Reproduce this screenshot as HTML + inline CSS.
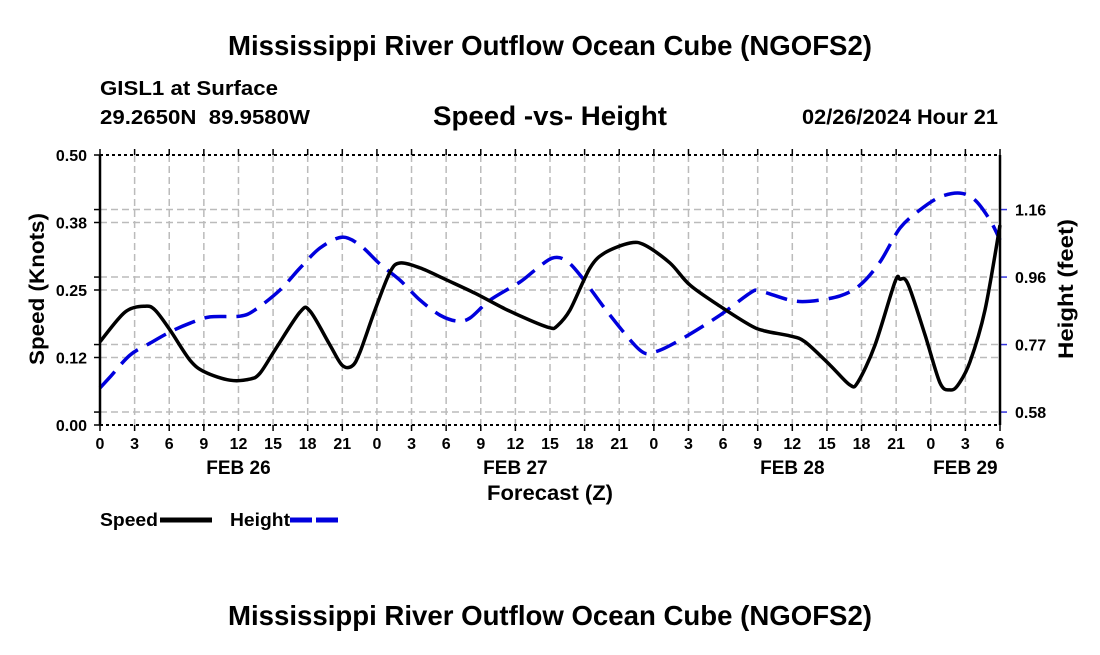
<!DOCTYPE html>
<html><head><meta charset="utf-8"><style>
body{margin:0;background:#fff;}
svg text{font-family:"Liberation Sans",Arial,sans-serif;font-weight:bold;fill:#000;white-space:pre;}
</style></head><body>
<svg id="chart" width="1100" height="650" viewBox="0 0 1100 650" xmlns="http://www.w3.org/2000/svg">
<rect width="1100" height="650" fill="#fff"/>
<text x="550" y="55" font-size="27.5" text-anchor="middle" textLength="644" lengthAdjust="spacingAndGlyphs">Mississippi River Outflow Ocean Cube (NGOFS2)</text>
<text x="100" y="95" font-size="20" textLength="178" lengthAdjust="spacingAndGlyphs">GISL1 at Surface</text>
<text x="100" y="124" font-size="20" textLength="210" lengthAdjust="spacingAndGlyphs">29.2650N  89.9580W</text>
<text x="550" y="125" font-size="27" text-anchor="middle" textLength="234" lengthAdjust="spacingAndGlyphs">Speed -vs- Height</text>
<text x="998" y="124" font-size="21" text-anchor="end" textLength="196" lengthAdjust="spacingAndGlyphs">02/26/2024 Hour 21</text>
<g id="grid"></g>
<g id="series"></g>
<g id="axes"></g>
<text transform="translate(44,289) rotate(-90)" font-size="21" text-anchor="middle" textLength="152" lengthAdjust="spacingAndGlyphs">Speed (Knots)</text>
<text transform="translate(1073,289) rotate(-90)" font-size="21" text-anchor="middle" textLength="140" lengthAdjust="spacingAndGlyphs">Height (feet)</text>
<text x="550" y="500" font-size="21" text-anchor="middle" textLength="126" lengthAdjust="spacingAndGlyphs">Forecast (Z)</text>
<g>
<text x="100" y="526" font-size="18" textLength="58" lengthAdjust="spacingAndGlyphs">Speed</text>
<line x1="160" y1="520" x2="212" y2="520" stroke="#000" stroke-width="5"/>
</g>
<g>
<text x="230" y="526" font-size="18" textLength="60" lengthAdjust="spacingAndGlyphs">Height</text>
<line x1="290" y1="520" x2="342" y2="520" stroke="#0000dd" stroke-width="5" stroke-dasharray="22,4"/>
</g>
<text x="550" y="625" font-size="27.5" text-anchor="middle" textLength="644" lengthAdjust="spacingAndGlyphs">Mississippi River Outflow Ocean Cube (NGOFS2)</text>
</svg>
<script>
const speedHours=[0,2.17,3.9,4.77,6.07,7.8,9.1,11.27,13.0,13.87,15.17,17.33,18.2,19.93,20.97,21.84,22.53,23.83,25.13,26.0,27.73,29.9,32.5,35.1,37.27,39.0,39.6,40.73,42.47,43.77,45.93,47.23,49.4,51.13,53.73,56.33,57.63,59.8,61.1,63.27,65.0,65.7,67.17,68.9,69.33,70.03,71.5,72.8,73.67,74.36,75.4,76.7,78];
const speedValues=[.154,.209,.220,.213,.176,.120,.098,.083,.085,.096,.139,.209,.211,.148,.111,.109,.135,.213,.283,.300,.291,.270,.244,.215,.194,.180,.183,.213,.291,.319,.337,.333,.300,.259,.220,.185,.174,.165,.154,.111,.074,.080,.148,.265,.270,.261,.167,.078,.065,.074,.117,.213,.370];
const heightHours=[0,.87,2.6,4.33,6.07,7.8,9.53,12.13,13.43,15.6,17.33,19.07,20.97,22.53,24.27,26.0,27.73,29.47,30.94,32.07,33.8,36.4,37.7,39.17,40.3,41.6,44.2,46.8,48.1,50.27,53.73,56.33,57.2,59.8,61.53,64.13,65.87,67.6,69.33,71.07,72.8,74.53,75.83,77.13,78];
const heightValues=[.649,.680,.743,.777,.809,.834,.852,.854,.872,.929,.992,1.049,1.080,1.057,1.003,.957,.900,.857,.840,.849,.900,.952,.986,1.020,1.015,.972,.857,.757,.752,.786,.857,.920,.926,.900,.897,.912,.943,1.009,1.106,1.158,1.195,1.206,1.186,1.129,1.072];
const xTickLabels=["0","3","6","9","12","15","18","21","0","3","6","9","12","15","18","21","0","3","6","9","12","15","18","21","0","3","6"];
const dayLabels=["FEB 26","FEB 27","FEB 28","FEB 29"];
const dayLabelHours=[12,36,60,75];
const leftTicks=[0,0.125,0.25,0.375,0.5];
const leftTickLabels=["0.00","0.12","0.25","0.38","0.50"];
const rightTicks=[0.58,0.773,0.966,1.159];
const rightTickLabels=["0.58","0.77","0.96","1.16"];

const X0=100,X1=1000,Y0=425,Y1=155;
const xs=h=>X0+h/78*(X1-X0);
const ys=v=>Y0-v/0.5*(Y0-Y1);
const FT0=0.543,FT1=1.315;
const yh=f=>Y0-(f-FT0)/(FT1-FT0)*(Y0-Y1);
const NS="http://www.w3.org/2000/svg";
function mk(tag,attrs,parent){const e=document.createElementNS(NS,tag);for(const k in attrs)e.setAttribute(k,attrs[k]);parent.appendChild(e);return e;}
function smooth(pts){let d='M'+pts[0][0].toFixed(1)+','+pts[0][1].toFixed(1);
 for(let i=0;i<pts.length-1;i++){const p0=pts[Math.max(0,i-1)],p1=pts[i],p2=pts[i+1],p3=pts[Math.min(pts.length-1,i+2)];
  const t=0.16;
  const c1=[p1[0]+(p2[0]-p0[0])*t,p1[1]+(p2[1]-p0[1])*t];
  const c2=[p2[0]-(p3[0]-p1[0])*t,p2[1]-(p3[1]-p1[1])*t];
  d+=' C'+c1.map(v=>v.toFixed(1)).join(',')+' '+c2.map(v=>v.toFixed(1)).join(',')+' '+p2[0].toFixed(1)+','+p2[1].toFixed(1);}
 return d;}
const grid=document.getElementById('grid'),series=document.getElementById('series'),axes=document.getElementById('axes');
xTickLabels.forEach((t,i)=>{const x=xs(i*3);
 if(i>0&&i<26){const l=mk('line',{x1:x,y1:Y1,x2:x,y2:Y0,stroke:'#bbb','stroke-width':1.5,'stroke-dasharray':'7,4'},grid);
 
 }
 const tk=mk('line',{x1:x,y1:Y0,x2:x,y2:Y0+6,stroke:'#000','stroke-width':1.5},axes);
 
 
 const tt=mk('line',{x1:x,y1:Y1,x2:x,y2:Y1-6,stroke:'#000','stroke-width':1.5},axes);
 
 
 const tx=mk('text',{x:x,y:449,'font-size':16,'text-anchor':'middle'},axes);tx.textContent=t;
 
 
});
dayLabels.forEach((d,i)=>{const t=mk('text',{x:xs(dayLabelHours[i]),y:474,'font-size':19,'text-anchor':'middle'},axes);t.textContent=d;
 
 });
leftTicks.forEach((v,i)=>{const y=ys(v);
 if(i>0&&i<4){const l=mk('line',{x1:X0,y1:y,x2:X1,y2:y,stroke:'#bbb','stroke-width':1.5,'stroke-dasharray':'7,4'},grid);
 
 }
 const tk=mk('line',{x1:X0-6,y1:y,x2:X0,y2:y,stroke:'#000','stroke-width':1.5},axes);
 
 
 const t=mk('text',{x:87,y:y+6,'font-size':16,'text-anchor':'end'},axes);t.textContent=leftTickLabels[i];
 
 });
rightTicks.forEach((v,i)=>{const y=yh(v);
 const l=mk('line',{x1:X0,y1:y,x2:X1,y2:y,stroke:'#bbb','stroke-width':1.5,'stroke-dasharray':'7,4'},grid);
 
 
 const lt=mk('line',{x1:X0-6,y1:y,x2:X0,y2:y,stroke:'#000','stroke-width':1.5},axes);
 
 
 const tk=mk('line',{x1:X1,y1:y,x2:X1+7,y2:y,stroke:'#3333dd','stroke-width':1.5},axes);
 
 
 const t=mk('text',{x:1015,y:y+6,'font-size':16},axes);t.textContent=rightTickLabels[i];
 
 });
[[X0,Y1,X1,Y1],[X0,Y0,X1,Y0]].forEach(a=>{const l=mk('line',{x1:a[0],y1:a[1],x2:a[2],y2:a[3],stroke:'#000','stroke-width':2,'stroke-dasharray':'3,3'},axes);
 
 });
[X0,X1].forEach(x=>{const l=mk('line',{x1:x,y1:Y1,x2:x,y2:Y0,stroke:'#000','stroke-width':2.5},axes);
 
 });
const hpts=heightHours.map((h,i)=>[xs(h),yh(heightValues[i])]);
const hl=mk('path',{d:smooth(hpts),fill:'none',stroke:'#0000dd','stroke-width':3.5,'stroke-dasharray':'22,10','stroke-linejoin':'round'},series);


const spts=speedHours.map((h,i)=>[xs(h),ys(speedValues[i])]);
const sl=mk('path',{d:smooth(spts),fill:'none',stroke:'#000','stroke-width':3.5,'stroke-linejoin':'round'},series);


</script>
</body></html>
